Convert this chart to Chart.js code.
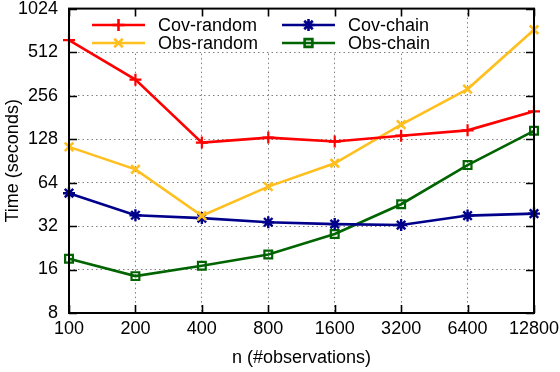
<!DOCTYPE html>
<html><head><meta charset="utf-8">
<script src="https://cdn.jsdelivr.net/npm/chart.js@4/dist/chart.umd.min.js"></script>
<style>html,body{margin:0;padding:0;background:#fff}#wrap{width:560px;height:372px}</style>
</head><body><div id="wrap"><canvas id="c" width="560" height="372"></canvas></div>
<script>
const categories = ['100','200','400','800','1600','3200','6400','12800'];
const covRandom = [620, 330, 121, 131, 123, 135, 147, 199];
const obsRandom = [113, 79, 37.7, 60, 87, 161, 284, 731];
const covChain = [54, 38, 36.3, 34, 33, 32.5, 37.8, 39];
const obsChain = [19, 14.4, 17, 20.3, 28.2, 45.3, 84.5, 146];
const yTicks = [8, 16, 32, 64, 128, 256, 512, 1024];
const seriesNames = ['Cov-random', 'Obs-random', 'Cov-chain', 'Obs-chain'];

const FONT = 'Liberation Sans, Arial, sans-serif';
const FS = 18;
const colors = ['#ff0000', '#ffbf1f', '#00008b', '#006400'];

function ds(i, data, style, r, bw, fillPt) {
  return {
    label: seriesNames[i], data, borderColor: colors[i], backgroundColor: 'rgba(0,0,0,0)',
    borderWidth: 2.6, pointStyle: style, pointRadius: r, pointHoverRadius: r,
    pointBorderColor: colors[i], pointBackgroundColor: fillPt ? colors[i] : 'rgba(0,0,0,0)',
    pointBorderWidth: bw, tension: 0, fill: false
  };
}

const legendLayout = [
  {i: 0, x: 92, y: 25}, {i: 2, x: 282, y: 25},
  {i: 1, x: 92, y: 43}, {i: 3, x: 282, y: 43}
];

const framePlugin = {
  id: 'frame',
  beforeDatasetsDraw(chart) {
    const ctx = chart.ctx;
    ctx.save();
    ctx.fillStyle = '#fff';
    ctx.fillRect(71, 7, 460 - 71, 52 - 7);
    ctx.restore();
  },
  afterDraw(chart) {
    const ctx = chart.ctx, a = chart.chartArea;
    const xs = chart.scales.x, ys = chart.scales.y;
    ctx.save();
    ctx.strokeStyle = '#000';
    ctx.lineWidth = 1.6;
    ctx.beginPath();
    const tl = 8;
    categories.forEach((c, k) => {
      const x = Math.round(xs.getPixelForValue(k)) + 0.5;
      ctx.moveTo(x, a.bottom); ctx.lineTo(x, a.bottom - tl);
      ctx.moveTo(x, a.top); ctx.lineTo(x, a.top + tl);
    });
    yTicks.forEach(v => {
      const y = Math.round(ys.getPixelForValue(v)) + 0.5;
      ctx.moveTo(a.left, y); ctx.lineTo(a.left + tl, y);
      ctx.moveTo(a.right, y); ctx.lineTo(a.right - tl, y);
    });
    ctx.stroke();
    ctx.lineWidth = 2;
    ctx.strokeRect(a.left, a.top, a.right - a.left, a.bottom - a.top);
    // legend
    ctx.font = FS + 'px ' + FONT;
    ctx.textBaseline = 'middle';
    ctx.textAlign = 'left';
    legendLayout.forEach(L => {
      const d = chart.data.datasets[L.i];
      ctx.strokeStyle = d.borderColor;
      ctx.lineWidth = d.borderWidth;
      ctx.beginPath();
      ctx.moveTo(L.x, L.y); ctx.lineTo(L.x + 53, L.y);
      ctx.stroke();
      ctx.fillStyle = d.pointBackgroundColor;
      ctx.strokeStyle = d.pointBorderColor;
      Chart.helpers.drawPoint(ctx, {
        pointStyle: d.pointStyle, radius: d.pointRadius, borderWidth: d.pointBorderWidth, rotation: 0
      }, L.x + 26.5, L.y);
      ctx.fillStyle = '#000';
      ctx.fillText(d.label, L.x + 66, L.y + 1);
    });
    ctx.restore();
  }
};

new Chart(document.getElementById('c'), {
  type: 'line',
  data: {
    labels: categories,
    datasets: [
      ds(0, covRandom, 'cross', 6, 2.2, true),
      ds(1, obsRandom, 'crossRot', 6, 2.6, true),
      ds(2, covChain, 'star', 6, 2.4, true),
      ds(3, obsChain, 'rect', 5.5, 2.2, false)
    ]
  },
  options: {
    responsive: false, animation: false, devicePixelRatio: 1,
    layout: {padding: {top: 6, right: 26, left: 0, bottom: 0}},
    plugins: {legend: {display: false}, tooltip: {enabled: false}},
    scales: {
      x: {
        type: 'category', offset: false,
        grid: {display: true, color: '#808080', lineWidth: 1, tickLength: 0, drawTicks: false},
        border: {display: false, dash: [1.5, 3]},
        ticks: {color: '#000', font: {family: FONT, size: FS}, padding: 5, maxRotation: 0, autoSkip: false},
        title: {display: true, text: 'n (#observations)', color: '#000', font: {family: FONT, size: FS}, padding: {top: 0, bottom: 3}},
        afterFit(s) { s.height = 59; s.paddingLeft = 0; s.paddingRight = 0; }
      },
      y: {
        type: 'logarithmic', min: 8, max: 1024,
        grid: {display: true, color: '#808080', lineWidth: 1, drawTicks: false},
        border: {display: false, dash: [1.5, 3]},
        afterBuildTicks(s) { s.ticks = yTicks.map(v => ({value: v})); },
        ticks: {color: '#000', font: {family: FONT, size: FS}, padding: 11, callback: v => String(v)},
        title: {display: true, text: 'Time (seconds)', color: '#000', font: {family: FONT, size: FS}, padding: {top: 2, bottom: 0}},
        afterFit(s) { s.width = 69; s.paddingTop = 0; s.paddingBottom = 0; }
      }
    }
  },
  plugins: [framePlugin]
});
</script></body></html>
